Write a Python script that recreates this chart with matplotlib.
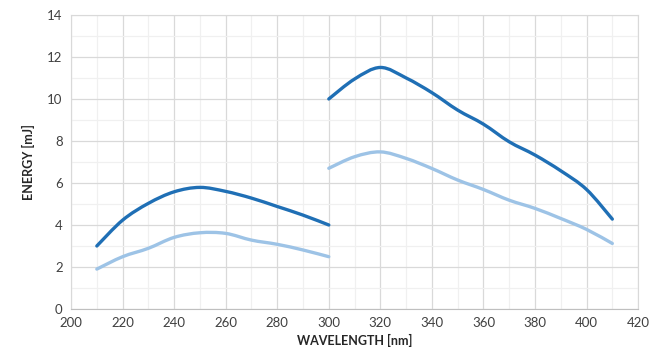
import matplotlib
matplotlib.use("Agg")
import matplotlib.pyplot as plt
from matplotlib.path import Path
from matplotlib.patches import PathPatch
import numpy as np

plt.rcParams['font.family'] = ['Lato', 'DejaVu Sans']

wl_a = [210, 220, 230, 240, 250, 260, 270, 280, 290, 300]
dark_a = [3.0, 4.23, 5.03, 5.58, 5.79, 5.6, 5.28, 4.88, 4.47, 4.0]
light_a = [1.9, 2.49, 2.89, 3.41, 3.63, 3.6, 3.28, 3.08, 2.81, 2.49]

wl_b = [300, 310, 320, 330, 340, 350, 360, 370, 380, 390, 400, 410]
dark_b = [10.0, 10.95, 11.5, 11.0, 10.3, 9.47, 8.8, 7.96, 7.33, 6.58, 5.69, 4.28]
light_b = [6.7, 7.25, 7.48, 7.17, 6.69, 6.14, 5.69, 5.18, 4.79, 4.31, 3.79, 3.12]

x_ticks = list(range(200, 421, 20))
y_ticks = list(range(0, 15, 2))

DARK = '#1F6FB5'
LIGHT = '#9DC3E6'


def smooth_path(x, y):
    # Excel-style smoothed line: cubic Bezier through points (Catmull-Rom, 1/6 tension)
    x = np.asarray(x, float)
    y = np.asarray(y, float)
    n = len(x)
    verts = [(x[0], y[0])]
    codes = [Path.MOVETO]
    for i in range(n - 1):
        p0 = (x[i - 1], y[i - 1]) if i > 0 else (x[i], y[i])
        p1 = (x[i], y[i])
        p2 = (x[i + 1], y[i + 1])
        p3 = (x[i + 2], y[i + 2]) if i + 2 < n else (x[i + 1], y[i + 1])
        c1 = (p1[0] + (p2[0] - p0[0]) / 6, p1[1] + (p2[1] - p0[1]) / 6)
        c2 = (p2[0] - (p3[0] - p1[0]) / 6, p2[1] - (p3[1] - p1[1]) / 6)
        verts += [c1, c2, p2]
        codes += [Path.CURVE4] * 3
    return Path(verts, codes)


fig = plt.figure(figsize=(6.64, 3.56), dpi=100)
ax = fig.add_axes([0.107, 0.132, 0.854, 0.826])

for xs, ys, c in [(wl_a, light_a, LIGHT), (wl_b, light_b, LIGHT),
                  (wl_a, dark_a, DARK), (wl_b, dark_b, DARK)]:
    ax.add_patch(PathPatch(smooth_path(xs, ys), facecolor='none', edgecolor=c,
                           lw=2.4, capstyle='round', joinstyle='round', zorder=3))

ax.set_xlim(200, 420)
ax.set_ylim(0, 14)
ax.set_xticks(x_ticks)
ax.set_yticks(y_ticks)
ax.set_xticks(np.arange(200, 421, 10), minor=True)
ax.set_yticks(np.arange(0, 15, 1), minor=True)
ax.grid(which='major', color='#D9D9D9', lw=0.9, zorder=0)
ax.grid(which='minor', color='#F0F0F0', lw=0.9, zorder=0)
ax.tick_params(which='both', length=0, labelsize=9.5, colors='#404040', pad=6)
for s in ax.spines.values():
    s.set_color('#D9D9D9')
ax.spines['bottom'].set_color('#BFBFBF')
ax.set_axisbelow(True)

ax.set_xlabel('WAVELENGTH [nm]', fontsize=9, fontweight='bold', color='#262626', labelpad=3)
ax.set_ylabel('ENERGY [mJ]', fontsize=9, fontweight='bold', color='#262626', labelpad=9)

fig.savefig('out.png', dpi=100)
